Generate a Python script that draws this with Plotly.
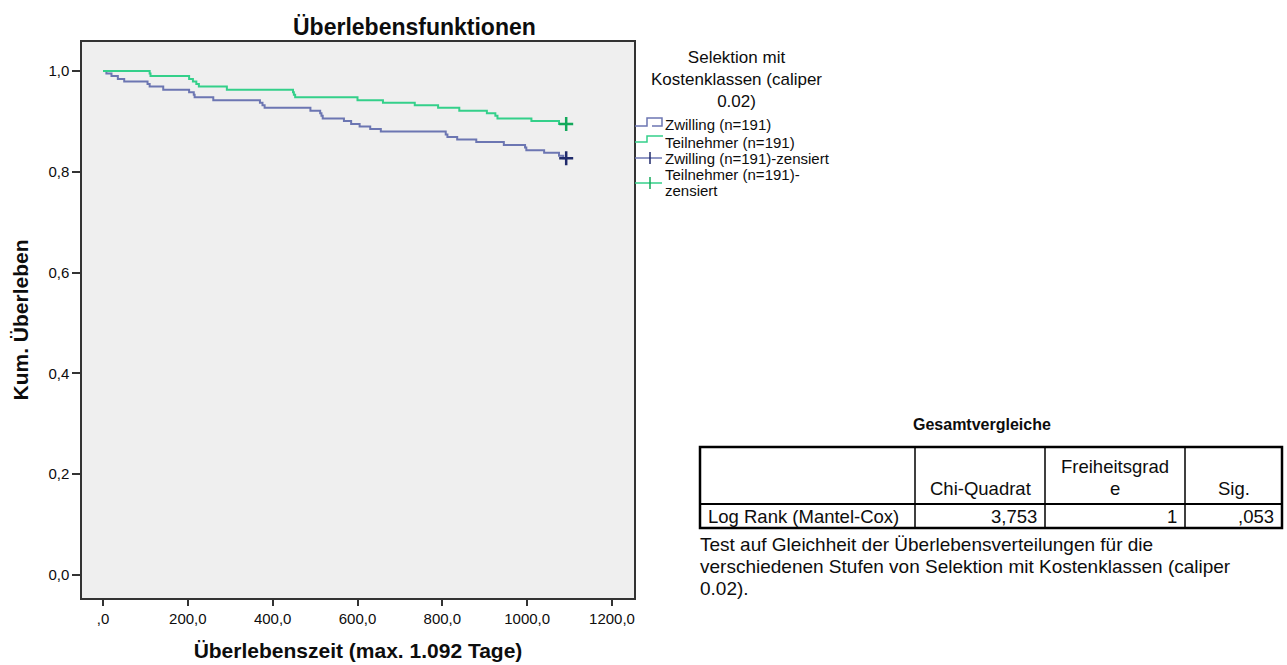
import plotly.graph_objects as go

# ---------------- data ----------------
# Kaplan-Meier step data (time in days, cumulative survival)
teil_t = [0, 110, 112, 203, 212, 220, 226, 292, 448, 450, 453, 600, 660, 735, 790, 840, 905, 925, 930, 1010, 1075, 1092]
teil_s = [1.0, 0.995, 0.990, 0.984, 0.979, 0.974, 0.969, 0.963, 0.958, 0.953, 0.948, 0.942, 0.937,
          0.932, 0.927, 0.921, 0.916, 0.911, 0.906, 0.901, 0.895, 0.895]
zw_t = [0, 8, 20, 35, 50, 105, 110, 142, 203, 214, 216, 260, 370, 376, 381, 489, 512, 515, 518,
        568, 585, 605, 630, 655, 808, 812, 835, 880, 945, 995, 998, 1040, 1075, 1085, 1092]
zw_s = [1.0, 0.995, 0.990, 0.984, 0.979, 0.974, 0.969, 0.963, 0.958, 0.953, 0.948, 0.942, 0.937,
        0.932, 0.927, 0.921, 0.916, 0.911, 0.906, 0.901, 0.895, 0.890, 0.885, 0.880, 0.874, 0.869,
        0.864, 0.859, 0.853, 0.848, 0.843, 0.838, 0.832, 0.827, 0.827]
# censored points (end of follow-up)
teil_cens_t = [1092]
teil_cens_s = [0.895]
zw_cens_t = [1092]
zw_cens_s = [0.827]

x_ticks = [0, 200, 400, 600, 800, 1000, 1200]
x_ticktext = [",0", "200,0", "400,0", "600,0", "800,0", "1000,0", "1200,0"]
y_ticks = [0.0, 0.2, 0.4, 0.6, 0.8, 1.0]
y_ticktext = ["0,0", "0,2", "0,4", "0,6", "0,8", "1,0"]

legend_title_lines = ["Selektion mit", "Kostenklassen (caliper", "0.02)"]
legend_labels = ["Zwilling (n=191)", "Teilnehmer (n=191)", "Zwilling (n=191)-zensiert",
                 "Teilnehmer (n=191)-", "zensiert"]

table_title = "Gesamtvergleiche"
table_header = ["", "Chi-Quadrat", ["Freiheitsgrad", "e"], "Sig."]
table_row_label = "Log Rank (Mantel-Cox)"
table_row_values = ["3,753", "1", ",053"]
table_note = ["Test auf Gleichheit der Überlebensverteilungen für die",
              "verschiedenen Stufen von Selektion mit Kostenklassen (caliper",
              "0.02)."]

# ---------------- styling ----------------
W, H = 1287, 665
L, R, T, B = 82, 634, 42, 598          # plot frame in pixels
X0_PX, X1200_PX = 103, 612             # pixel positions of x = 0 and x = 1200
Y1_PX, Y0_PX = 71, 575                 # pixel positions of y = 1 and y = 0
FONT = "Arial, Liberation Sans, sans-serif"
C_ZW = "#6c76b2"
C_TE = "#34d08a"
C_ZW_M = "#1f2a6b"
C_TE_M = "#13a85a"
INK = "#0d0d0d"


def px(x):
    return (x - L) / (R - L)


def py(y):
    return (B - y) / (B - T)


fig = go.Figure()

fig.add_trace(go.Scatter(x=zw_t, y=zw_s, mode="lines", line=dict(color=C_ZW, width=2, shape="hv"),
                         name=legend_labels[0], showlegend=False, hoverinfo="skip"))
fig.add_trace(go.Scatter(x=teil_t, y=teil_s, mode="lines", line=dict(color=C_TE, width=2, shape="hv"),
                         name=legend_labels[1], showlegend=False, hoverinfo="skip"))
fig.add_trace(go.Scatter(x=zw_cens_t, y=zw_cens_s, mode="markers",
                         marker=dict(symbol="cross-thin", size=10, color=C_ZW_M, line=dict(width=2.5, color=C_ZW_M)),
                         name=legend_labels[2], showlegend=False, hoverinfo="skip"))
fig.add_trace(go.Scatter(x=teil_cens_t, y=teil_cens_s, mode="markers",
                         marker=dict(symbol="cross-thin", size=10, color=C_TE_M, line=dict(width=2.5, color=C_TE_M)),
                         name=legend_labels[3] + legend_labels[4], showlegend=False, hoverinfo="skip"))

annotations = []
shapes = []

# chart title
annotations.append(dict(text="<b>Überlebensfunktionen</b>", x=px(414), y=py(27), xref="paper", yref="paper",
                        xanchor="center", yanchor="middle", showarrow=False,
                        font=dict(family=FONT, size=23, color=INK)))

# ---- custom legend ----
annotations.append(dict(text="<br>".join(legend_title_lines), x=px(736), y=py(79), xref="paper", yref="paper",
                        xanchor="center", yanchor="middle", align="center", showarrow=False,
                        font=dict(family=FONT, size=17, color=INK)))
for txt, yy in zip(legend_labels, [125, 142, 158, 175, 190]):
    annotations.append(dict(text=txt, x=px(663), y=py(yy), xref="paper", yref="paper",
                            xanchor="left", yanchor="middle", showarrow=False,
                            font=dict(family=FONT, size=15, color=INK)))


def path(points):
    return "M " + " L ".join(f"{px(a):.5f},{py(b):.5f}" for a, b in points)


# Zwilling step symbol
shapes.append(dict(type="path", xref="paper", yref="paper",
                   path=path([(635, 126), (647, 126), (647, 118), (662, 118), (662, 126), (652, 126)]),
                   line=dict(color=C_ZW, width=1.5)))
# Teilnehmer step symbol
shapes.append(dict(type="path", xref="paper", yref="paper",
                   path=path([(635, 142), (647, 142), (647, 136), (663, 136)]),
                   line=dict(color=C_TE, width=1.5)))
# censored symbols
for yy, col, mcol in [(158, C_ZW, C_ZW_M), (183, C_TE, C_TE_M)]:
    shapes.append(dict(type="line", xref="paper", yref="paper", x0=px(635), x1=px(662), y0=py(yy), y1=py(yy),
                       line=dict(color=col, width=1.5)))
    shapes.append(dict(type="line", xref="paper", yref="paper", x0=px(650), x1=px(650), y0=py(yy - 6), y1=py(yy + 6),
                       line=dict(color=mcol, width=1.5)))

# ---- table ----
tl, tr, tt, tb, tdiv = 700, 1282, 447, 528, 504
cols = [700, 915, 1045, 1185, 1282]
annotations.append(dict(text="<b>" + table_title + "</b>", x=px(982), y=py(425), xref="paper", yref="paper",
                        xanchor="center", yanchor="middle", showarrow=False,
                        font=dict(family=FONT, size=16, color=INK)))
shapes.append(dict(type="rect", xref="paper", yref="paper", x0=px(tl), x1=px(tr), y0=py(tt), y1=py(tb),
                   line=dict(color="#000000", width=2.5)))
shapes.append(dict(type="line", xref="paper", yref="paper", x0=px(tl), x1=px(tr), y0=py(tdiv), y1=py(tdiv),
                   line=dict(color="#000000", width=2)))
for cx in cols[1:-1]:
    shapes.append(dict(type="line", xref="paper", yref="paper", x0=px(cx), x1=px(cx), y0=py(tt), y1=py(tb),
                       line=dict(color="#000000", width=1.5)))
tfont = dict(family=FONT, size=18.5, color=INK)
for i, h in enumerate(table_header):
    cxm = (cols[i] + cols[i + 1]) / 2
    if isinstance(h, list):
        for txt, yy in zip(h, [466, 488]):
            annotations.append(dict(text=txt, x=px(cxm), y=py(yy), xref="paper", yref="paper",
                                    xanchor="center", yanchor="middle", showarrow=False, font=tfont))
    elif h:
        annotations.append(dict(text=h, x=px(cxm), y=py(488), xref="paper", yref="paper",
                                xanchor="center", yanchor="middle", showarrow=False, font=tfont))
annotations.append(dict(text=table_row_label, x=px(706), y=py(516), xref="paper", yref="paper",
                        xanchor="left", yanchor="middle", showarrow=False, font=tfont))
for i, v in enumerate(table_row_values):
    annotations.append(dict(text=v, x=px(cols[i + 2] - 6), y=py(516), xref="paper", yref="paper",
                            xanchor="right", yanchor="middle", showarrow=False, font=tfont))
nfont = dict(family=FONT, size=19, color=INK)
for txt, yy in zip(table_note, [544, 566, 588]):
    annotations.append(dict(text=txt, x=px(698), y=py(yy), xref="paper", yref="paper",
                            xanchor="left", yanchor="middle", showarrow=False, font=nfont))

# axis ranges from pixel calibration
x_per_px = 1200 / (X1200_PX - X0_PX)
x_range = [(L - X0_PX) * x_per_px, (R - X0_PX) * x_per_px]
y_per_px = 1.0 / (Y0_PX - Y1_PX)
y_range = [(Y0_PX - B) * y_per_px, (Y0_PX - T) * y_per_px]

axis_common = dict(showgrid=False, zeroline=False, showline=True, mirror=True, linecolor="#333333",
                   linewidth=1.5, ticks="outside", tickcolor="#333333", tickwidth=1.5,
                   tickfont=dict(family=FONT, size=15, color=INK))

fig.update_layout(
    width=W, height=H,
    margin=dict(l=L, r=W - R, t=T, b=H - B, autoexpand=False),
    paper_bgcolor="white", plot_bgcolor="#efefef",
    showlegend=False,
    xaxis=dict(range=x_range, tickvals=x_ticks, ticktext=x_ticktext, ticklen=6, **axis_common,
               title=dict(text="<b>Überlebenszeit (max. 1.092 Tage)</b>", standoff=18,
                          font=dict(family=FONT, size=21, color=INK))),
    yaxis=dict(range=y_range, tickvals=y_ticks, ticktext=y_ticktext, ticklen=8, **axis_common,
               title=dict(text="<b>Kum. Überleben</b>", standoff=14,
                          font=dict(family=FONT, size=21, color=INK))),
    annotations=annotations,
    shapes=shapes,
)

fig.write_html("out.html", config={"displayModeBar": False},
               post_script="document.body.style.margin='0px';document.body.style.overflow='hidden';")
